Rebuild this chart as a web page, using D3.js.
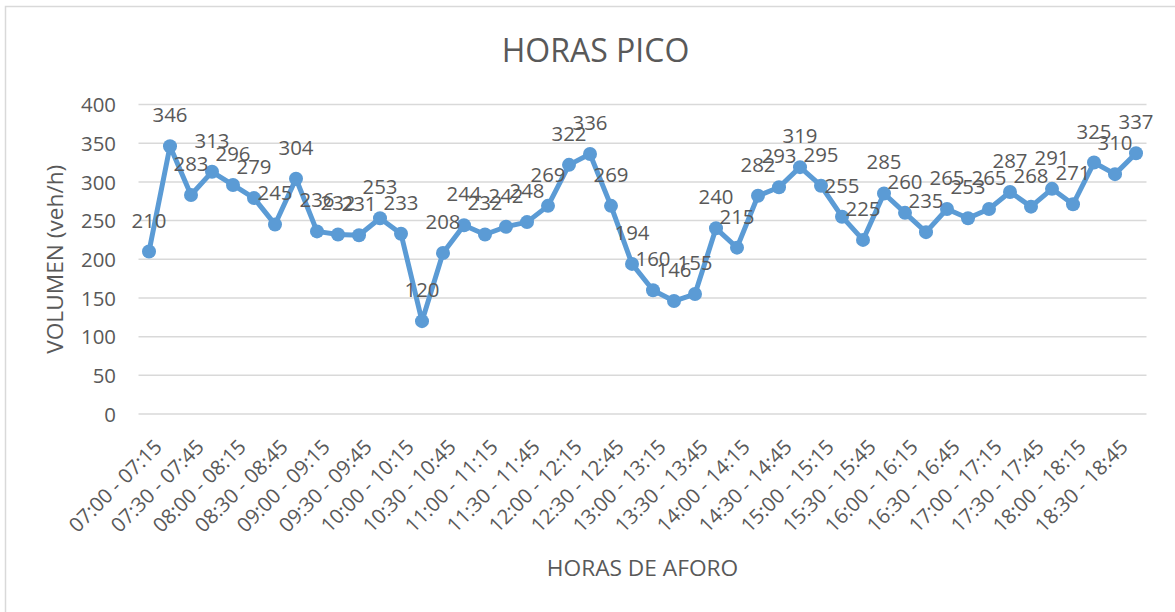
<!DOCTYPE html>
<html>
<head>
<meta charset="utf-8">
<script src="https://cdn.jsdelivr.net/npm/d3@7"></script>
<style>
  html, body { margin: 0; padding: 0; background: #fff; }
  svg { display: block; }
  text { font-family: "Open Sans", "Noto Sans", sans-serif; fill: #595959; }
</style>
</head>
<body>
<svg id="chart" width="1175" height="612"></svg>
<script>
const categories = [
  "07:00 - 07:15","07:15 - 07:30","07:30 - 07:45","07:45 - 08:00",
  "08:00 - 08:15","08:15 - 08:30","08:30 - 08:45","08:45 - 09:00",
  "09:00 - 09:15","09:15 - 09:30","09:30 - 09:45","09:45 - 10:00",
  "10:00 - 10:15","10:15 - 10:30","10:30 - 10:45","10:45 - 11:00",
  "11:00 - 11:15","11:15 - 11:30","11:30 - 11:45","11:45 - 12:00",
  "12:00 - 12:15","12:15 - 12:30","12:30 - 12:45","12:45 - 13:00",
  "13:00 - 13:15","13:15 - 13:30","13:30 - 13:45","13:45 - 14:00",
  "14:00 - 14:15","14:15 - 14:30","14:30 - 14:45","14:45 - 15:00",
  "15:00 - 15:15","15:15 - 15:30","15:30 - 15:45","15:45 - 16:00",
  "16:00 - 16:15","16:15 - 16:30","16:30 - 16:45","16:45 - 17:00",
  "17:00 - 17:15","17:15 - 17:30","17:30 - 17:45","17:45 - 18:00",
  "18:00 - 18:15","18:15 - 18:30","18:30 - 18:45","18:45 - 19:00"
];
const volumen = [
  210, 346, 283, 313, 296, 279, 245, 304,
  236, 232, 231, 253, 233, 120, 208, 244,
  232, 242, 248, 269, 322, 336, 269, 194,
  160, 146, 155, 240, 215, 282, 293, 319,
  295, 255, 225, 285, 260, 235, 265, 253,
  265, 287, 268, 291, 271, 325, 310, 337
];
const yTicks = [0, 50, 100, 150, 200, 250, 300, 350, 400];
const titleText = "HORAS PICO";
const xTitle = "HORAS DE AFORO";
const yTitle = "VOLUMEN (veh/h)";

const svg = d3.select("#chart");
const plot = { left: 138.5, right: 1146.5, top: 104.5, bottom: 414 };

// chart border
svg.append("rect")
  .attr("x", 5.5).attr("y", 6.5)
  .attr("width", 1300).attr("height", 800)
  .attr("fill", "none").attr("stroke", "#d9d9d9").attr("stroke-width", 1.5);

const x = d3.scaleBand().domain(categories).range([plot.left, plot.right]).padding(0);
const y = d3.scaleLinear().domain([0, 400]).range([plot.bottom, plot.top]);
const cx = d => x(d) + x.bandwidth() / 2;

// gridlines
svg.append("g").selectAll("line").data(yTicks).join("line")
  .attr("x1", plot.left).attr("x2", plot.right)
  .attr("y1", d => y(d)).attr("y2", d => y(d))
  .attr("stroke", "#d9d9d9").attr("stroke-width", 1.5);

// y axis labels
const yAxis = d3.axisLeft(y).tickValues(yTicks).tickSize(0).tickPadding(0);
const gy = svg.append("g").attr("transform", `translate(116,0)`).call(yAxis);
gy.select(".domain").remove();
gy.selectAll("text")
  .attr("font-size", "20.4px").attr("font-family", "'Open Sans', sans-serif")
  .attr("fill", "#595959").attr("dy", "0.36em");

// x axis labels (every other category)
const xAxis = d3.axisBottom(x)
  .tickValues(categories.filter((d, i) => i % 2 === 0))
  .tickSize(0).tickPadding(0);
const gx = svg.append("g").attr("transform", `translate(0,${plot.bottom})`).call(xAxis);
gx.select(".domain").remove();
gx.selectAll("text")
  .attr("font-size", "20.4px").attr("font-family", "'Open Sans', sans-serif")
  .attr("fill", "#595959")
  .attr("text-anchor", "end")
  .attr("x", 0).attr("y", 0).attr("dy", "0.36em")
  .attr("transform", "translate(9,29) rotate(-45)");

// line
const line = d3.line().x((d, i) => cx(categories[i])).y(d => y(d));
svg.append("path").datum(volumen)
  .attr("d", line).attr("fill", "none")
  .attr("stroke", "#5b9bd5").attr("stroke-width", 5)
  .attr("stroke-linejoin", "round").attr("stroke-linecap", "round");

// markers
svg.append("g").selectAll("circle").data(volumen).join("circle")
  .attr("cx", (d, i) => cx(categories[i])).attr("cy", d => y(d))
  .attr("r", 7).attr("fill", "#5b9bd5");

// data labels
svg.append("g").selectAll("text").data(volumen).join("text")
  .attr("x", (d, i) => cx(categories[i])).attr("y", d => y(d) - 24)
  .attr("text-anchor", "middle").attr("font-size", "20.4px")
  .attr("fill", "#404040")
  .text(d => d);

// titles
svg.append("text").attr("x", 595.5).attr("y", 61.5)
  .attr("text-anchor", "middle").attr("font-size", "32px").text(titleText);
svg.append("text").attr("x", (plot.left + plot.right) / 2).attr("y", 576)
  .attr("text-anchor", "middle").attr("font-size", "22.7px").text(xTitle);
svg.append("text")
  .attr("transform", `translate(63,${(plot.top + plot.bottom) / 2}) rotate(-90)`)
  .attr("text-anchor", "middle").attr("font-size", "22.7px").text(yTitle);
</script>
</body>
</html>
